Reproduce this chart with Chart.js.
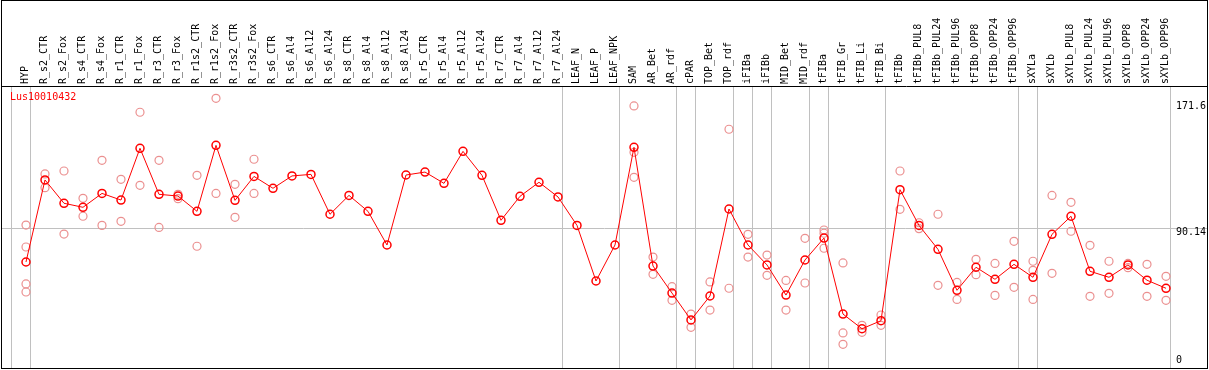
<!DOCTYPE html>
<html>
<head>
<meta charset="utf-8">
<script src="https://cdn.jsdelivr.net/npm/chart.js@4/dist/chart.umd.min.js"></script>
<style>
  body { margin: 0; background: #fff; }
  #frame { position: absolute; left: 1px; top: 0; width: 1207px; height: 369px; box-sizing: border-box; border: 1px solid #000; }
  #title { position: absolute; left: 10px; top: 91px; font: 10px "DejaVu Sans Mono", monospace; line-height: 12px; color: #f00; }
  canvas { display: block; }
</style>
</head>
<body>
<div id="frame"><canvas id="chart" width="1205" height="367"></canvas></div>
<div id="title">Lus10010432</div>
<script>
const categories = [
    'HYP', 'R_s2_CTR', 'R_s2_Fox', 'R_s4_CTR', 'R_s4_Fox', 'R_r1_CTR', 'R_r1_Fox', 'R_r3_CTR', 'R_r3_Fox',
    'R_r1s2_CTR', 'R_r1s2_Fox', 'R_r3s2_CTR', 'R_r3s2_Fox', 'R_s6_CTR', 'R_s6_Al4', 'R_s6_Al12', 'R_s6_Al24',
    'R_s8_CTR', 'R_s8_Al4', 'R_s8_Al12', 'R_s8_Al24', 'R_r5_CTR', 'R_r5_Al4', 'R_r5_Al12', 'R_r5_Al24',
    'R_r7_CTR', 'R_r7_Al4', 'R_r7_Al12', 'R_r7_Al24', 'LEAF_N', 'LEAF_P', 'LEAF_NPK', 'SAM', 'AR_Bet', 'AR_rdf',
    'cPAR', 'TOP_Bet', 'TOP_rdf', 'iFIBa', 'iFIBb', 'MID_Bet', 'MID_rdf', 'tFIBa', 'tFIB_Gr', 'tFIB_Li', 'tFIB_Bi',
    'tFIBb', 'tFIBb_PUL8', 'tFIBb_PUL24', 'tFIBb_PUL96', 'tFIBb_OPP8', 'tFIBb_OPP24', 'tFIBb_OPP96', 'sXYLa',
    'sXYLb', 'sXYLb_PUL8', 'sXYLb_PUL24', 'sXYLb_PUL96', 'sXYLb_OPP8', 'sXYLb_OPP24', 'sXYLb_OPP96'
];

// mean expression per sample
const meanVals = [
    68.6, 121.7, 106.6, 104.0, 113.0, 108.7, 142.2, 112.4, 111.3, 101.4, 144.1, 108.5, 124.0,
    116.3, 124.3, 125.3, 99.5, 111.7, 101.4, 79.6, 124.9, 126.8, 119.5, 140.2, 124.7,
    95.6, 111.1, 120.2, 110.7, 92.3, 56.3, 79.6, 142.8, 66.0, 48.5, 31.1, 46.6, 102.9,
    79.6, 66.7, 47.2, 69.9, 84.1, 34.9, 25.4, 30.6, 115.4, 92.3, 76.8, 50.3, 65.2, 57.4,
    67.1, 58.7, 86.5, 98.2, 62.6, 58.7, 66.7, 56.8, 51.6
];

// individual replicates per sample
const replicates = [
    [92.5, 78.3, 54.4, 49.2], [125.6, 116.7], [127.5, 86.7], [109.8, 98.2], [134.4, 92.3],
    [122.1, 94.9], [165.5, 118.2], [134.4, 91.0], [112.4, 109.6], [124.7, 78.8], [174.5, 113.0],
    [118.9, 97.5], [135.1, 113.0],
    [], [], [], [], [], [], [], [], [], [], [], [], [], [], [], [], [], [], [],
    [169.6, 139.6, 123.4], [71.8, 60.6], [52.6, 43.8], [34.9, 26.3], [55.7, 37.5], [154.5, 51.6],
    [86.5, 71.8], [73.1, 60.0], [56.7, 37.5], [83.9, 55.0], [89.3, 87.2, 77.5], [68.0, 22.7, 15.3],
    [27.6, 23.1], [34.3, 27.6], [127.5, 102.7], [94.0, 90.2], [99.5, 53.5], [55.4, 44.4],
    [70.3, 60.4], [67.7, 47.0], [82.0, 52.2], [69.1, 63.2, 44.4], [111.7, 61.3], [107.2, 88.5],
    [79.4, 46.4], [69.1, 48.3], [67.7, 64.9], [67.1, 46.4], [59.3, 43.8]
];

const yTicks = [0, 90.14, 171.6];
// last sample index of each tissue group (-1 = before first)
const groupEnds = [-1, 0, 28, 31, 34, 35, 37, 38, 39, 41, 42, 45, 52, 53, 60];

const xMin = -1.263, xMax = 62.158;

Chart.defaults.font.family = '"DejaVu Sans Mono", monospace';
Chart.defaults.font.size = 10;
Chart.defaults.color = '#000';

const meanPoints = meanVals.map((v, i) => ({ x: i, y: v }));
const repPoints = replicates.flatMap((r, i) => r.map(v => ({ x: i, y: v })));

new Chart(document.getElementById('chart'), {
    type: 'line',
    data: {
        datasets: [{
            data: meanPoints,
            xAxisID: 'x',
            yAxisID: 'y',
            borderColor: '#ff0000',
            borderWidth: 1,
            pointRadius: 4,
            pointBorderWidth: 1.5,
            pointBorderColor: '#ff0000',
            pointBackgroundColor: 'rgba(0,0,0,0)',
            order: 0
        }, {
            data: repPoints,
            xAxisID: 'x',
            yAxisID: 'y',
            showLine: false,
            pointRadius: 4,
            pointBorderWidth: 1.2,
            pointBorderColor: '#eb9090',
            pointBackgroundColor: 'rgba(0,0,0,0)',
            order: 1
        }]
    },
    options: {
        responsive: false,
        animation: false,
        layout: { padding: 0, autoPadding: false },
        plugins: {
            legend: { display: false },
            tooltip: { enabled: false }
        },
        scales: {
            labels: {
                type: 'linear',
                position: 'top',
                min: xMin,
                max: xMax,
                grid: { display: false, drawTicks: false },
                border: { display: true, color: '#000', width: 1 },
                afterBuildTicks: s => { s.ticks = categories.map((c, i) => ({ value: i })); },
                ticks: {
                    autoSkip: false,
                    minRotation: 90,
                    maxRotation: 90,
                    padding: 2,
                    labelOffset: 11,
                    callback: v => categories[v]
                },
                afterFit: s => { s.height = 85; s.paddingLeft = 0; s.paddingRight = 0; }
            },
            x: {
                type: 'linear',
                position: 'bottom',
                min: xMin,
                max: xMax,
                grid: { color: '#c0c0c0', drawTicks: false },
                border: { display: false },
                ticks: { display: false },
                afterBuildTicks: s => { s.ticks = groupEnds.map(g => ({ value: g + 0.25 })); },
                afterFit: s => { s.height = 0; }
            },
            y: {
                type: 'linear',
                position: 'right',
                min: 0,
                max: 182.5,
                grid: {
                    color: c => (c.tick && c.tick.value === 90.14) ? '#c0c0c0' : 'rgba(0,0,0,0)',
                    drawTicks: false
                },
                border: { display: false },
                afterBuildTicks: s => { s.ticks = yTicks.map(v => ({ value: v })); },
                ticks: {
                    mirror: true,
                    crossAlign: 'far',
                    padding: -1,
                    labelOffset: 4,
                    // bottom label sits inside the frame
                    callback: v => v === 0 ? ['0', '', ''] : String(v)
                },
                afterFit: s => { s.width = 0; s.paddingTop = 0; s.paddingBottom = 0; }
            }
        }
    }
});
</script>
</body>
</html>
